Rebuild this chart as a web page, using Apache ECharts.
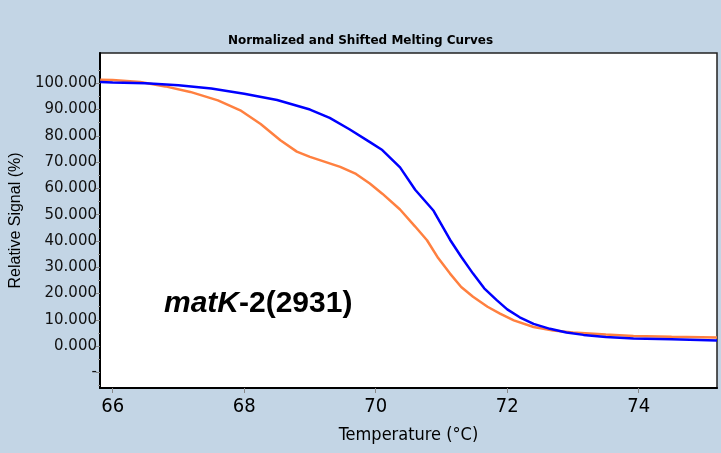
<!DOCTYPE html>
<html>
<head>
<meta charset="utf-8">
<script src="https://cdn.jsdelivr.net/npm/echarts@6/dist/echarts.min.js"></script>
<style>
html, body { margin: 0; padding: 0; background: #c3d5e5; }
#melt_chart { width: 721px; height: 453px; }
</style>
</head>
<body>
<div id="melt_chart"></div>
<script>
// readings taken off the plot: [temperature, relative signal]
var blue_curve = [
    [65.81, 100.5], [66.0, 100.3], [66.5, 100.0], [67.0, 99.2], [67.5, 98.0],
    [68.0, 96.0], [68.5, 93.6], [69.0, 90.0], [69.3, 86.8], [69.6, 82.5],
    [69.9, 77.8], [70.1, 74.6], [70.37, 68.0], [70.6, 59.5], [70.88, 51.5],
    [71.13, 40.5], [71.3, 34.0], [71.48, 27.6], [71.65, 22.0], [71.84, 17.5],
    [72.0, 14.0], [72.19, 11.0], [72.4, 8.5], [72.65, 6.6], [72.9, 5.2],
    [73.16, 4.3], [73.5, 3.5], [73.92, 2.9], [74.5, 2.6], [75.19, 2.2]
];
var orange_curve = [
    [65.81, 101.3], [66.0, 101.2], [66.42, 100.5], [66.8, 98.8], [67.18, 96.7],
    [67.6, 93.5], [67.94, 89.7], [68.25, 84.5], [68.55, 78.3], [68.8, 74.0],
    [69.0, 72.0], [69.46, 68.2], [69.7, 65.5], [69.91, 61.9], [70.1, 58.0],
    [70.37, 52.0], [70.6, 45.5], [70.78, 40.3], [70.95, 33.5], [71.13, 27.6],
    [71.3, 22.5], [71.48, 18.8], [71.7, 15.0], [71.89, 12.4], [72.1, 9.8],
    [72.4, 7.3], [72.7, 6.0], [73.0, 5.2], [73.5, 4.4], [73.92, 3.9],
    [74.5, 3.6], [75.19, 3.3]
];
var x_ticks = [66, 68, 70, 72, 74];
var y_ticks = [-10, 0, 10, 20, 30, 40, 50, 60, 70, 80, 90, 100];
var y_minor_ticks = [-15, -5, 5, 15, 25, 35, 45, 55, 65, 75, 85, 95, 105];

var narrow = '"DejaVu Sans Condensed", sans-serif';

var chart = echarts.init(document.getElementById('melt_chart'));
var option = {
    backgroundColor: '#c3d5e5',
    animation: false,
    title: {
        text: 'Normalized and Shifted Melting Curves',
        left: 'center',
        top: 30,
        textStyle: {
            fontFamily: 'DejaVu Sans',
            fontWeight: 'bold',
            fontSize: 12,
            color: '#000'
        }
    },
    grid: {
        left: 100,
        right: 4,
        top: 53,
        bottom: 65,
        show: true,
        backgroundColor: '#fff',
        borderColor: '#222',
        borderWidth: 1.5
    },
    xAxis: {
        type: 'value',
        min: 65.807,
        max: 75.19,
        name: 'Temperature (°C)',
        nameLocation: 'middle',
        nameGap: 38,
        nameTextStyle: {
            fontFamily: narrow,
            fontSize: 18,
            color: '#000'
        },
        splitLine: { show: false },
        axisLine: { onZero: false, lineStyle: { color: '#000', width: 2 } },
        axisTick: {
            customValues: x_ticks,
            length: 5,
            lineStyle: { color: '#888' }
        },
        axisLabel: {
            customValues: x_ticks,
            margin: 9,
            fontFamily: narrow,
            fontSize: 20,
            color: '#000'
        }
    },
    yAxis: [{
        type: 'value',
        min: -15.9,
        max: 111.5,
        name: 'Relative Signal (%)',
        nameLocation: 'middle',
        nameGap: 71,
        nameTextStyle: {
            fontFamily: '"Liberation Sans", Arial, sans-serif',
            fontSize: 16,
            color: '#000'
        },
        splitLine: { show: false },
        axisLine: { onZero: false, lineStyle: { color: '#000', width: 2 } },
        axisTick: {
            customValues: y_ticks,
            length: 4,
            lineStyle: { color: '#888' }
        },
        axisLabel: {
            customValues: y_ticks,
            margin: 3,
            fontFamily: '"DejaVu Sans", sans-serif',
            fontSize: 15,
            color: '#111',
            formatter: function (v) {
                return v < 0 ? '-' : v.toFixed(3);
            }
        }
    }, {
        type: 'value',
        min: -15.9,
        max: 111.5,
        position: 'left',
        splitLine: { show: false },
        axisLine: { show: false },
        axisLabel: { show: false },
        axisTick: {
            customValues: y_minor_ticks,
            length: 2,
            lineStyle: { color: '#999' }
        }
    }],
    series: [{
        type: 'line',
        data: orange_curve,
        showSymbol: false,
        lineStyle: { color: '#ff8040', width: 2.5 },
        z: 2
    }, {
        type: 'line',
        data: blue_curve,
        showSymbol: false,
        lineStyle: { color: '#0000ff', width: 2.5 },
        z: 3
    }],
    graphic: [{
        type: 'text',
        left: 164,
        top: 289,
        z: 10,
        style: {
            text: '{it|matK}{bd|-2(2931)}',
            rich: {
                it: {
                    fontFamily: '"Liberation Sans", Arial, sans-serif',
                    fontStyle: 'italic',
                    fontWeight: 'bold',
                    fontSize: 30,
                    fill: '#000'
                },
                bd: {
                    fontFamily: '"Liberation Sans", Arial, sans-serif',
                    fontWeight: 'bold',
                    fontSize: 30,
                    fill: '#000'
                }
            }
        }
    }]
};
chart.setOption(option);
</script>
</body>
</html>
